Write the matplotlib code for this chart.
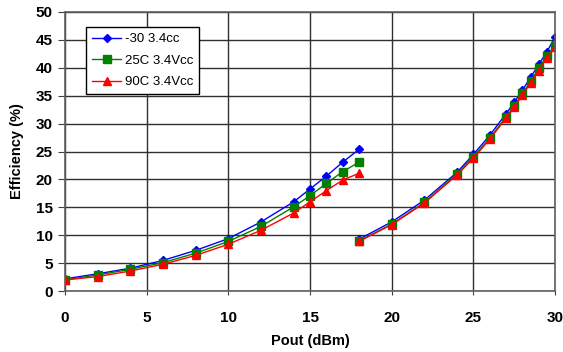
import numpy as np
import matplotlib.pyplot as plt

plt.rcParams['font.family'] = ['Liberation Sans', 'DejaVu Sans']
plt.rcParams['font.weight'] = 'bold'

# Pout (dBm) for the two measurement sweeps, NaN separates them
pout = [0, 2, 4, 6, 8, 10, 12, 14, 15, 16, 17, 18, np.nan,
        18, 20, 22, 24, 25, 26, 27, 27.5, 28, 28.5, 29, 29.5, 30]

eff_m30 = [2.2, 3.1, 4.1, 5.5, 7.3, 9.4, 12.4, 16.0, 18.3, 20.6, 23.1, 25.4, np.nan,
           9.3, 12.4, 16.3, 21.3, 24.5, 27.9, 31.8, 33.8, 36.0, 38.3, 40.6, 42.9, 45.5]
eff_25c = [2.0, 2.9, 3.9, 5.1, 6.8, 8.9, 11.6, 15.1, 17.1, 19.3, 21.4, 23.1, np.nan,
           9.0, 12.0, 15.9, 21.0, 24.1, 27.4, 31.2, 33.2, 35.4, 37.6, 39.9, 42.2, 43.9]
eff_90c = [2.0, 2.6, 3.6, 4.8, 6.4, 8.4, 10.9, 14.0, 16.0, 18.0, 19.9, 21.1, np.nan,
           8.9, 11.9, 15.8, 20.8, 23.8, 27.2, 31.0, 32.9, 35.1, 37.3, 39.5, 41.8, 43.7]

labels = ['-30 3.4cc', '25C 3.4Vcc', '90C 3.4Vcc']

fig = plt.figure(figsize=(5.63, 3.52), dpi=100)
ax = fig.add_axes([0.1155, 0.173, 0.8705, 0.793])

ax.plot(pout, eff_m30, color='#0000FF', marker='D', markersize=4, lw=1, label=labels[0])
ax.plot(pout, eff_25c, color='#008000', marker='s', markersize=6, lw=1, label=labels[1])
ax.plot(pout, eff_90c, color='#FF0000', marker='^', markersize=6, lw=1, label=labels[2])

ax.set_xlim(0, 30)
ax.set_ylim(0, 50)
ax.set_xticks(np.arange(0, 31, 5))
ax.set_yticks(np.arange(0, 51, 5))
ax.grid(True, color='#303030', lw=1)
ax.set_axisbelow(True)
for s in ax.spines.values():
    s.set_color('#606060')
    s.set_linewidth(1.2)
ax.tick_params(direction='out', color='#404040', labelsize=11)
ax.tick_params(axis='x', length=3, pad=11)
ax.tick_params(axis='y', length=5, pad=4)

ax.set_xlabel('Pout (dBm)', fontsize=10.5, fontweight='bold', labelpad=7)
ax.set_ylabel('Efficiency (%)', fontsize=10.5, fontweight='bold', labelpad=8)

leg = ax.legend(loc='upper left', bbox_to_anchor=(0.043, 0.946),
                prop={'weight': 'normal', 'size': 9.5},
                fancybox=False, framealpha=1, edgecolor='black',
                handlelength=2.2, borderpad=0.45, labelspacing=0.7,
                handletextpad=0.3, borderaxespad=0)
leg.get_frame().set_linewidth(1)

fig.savefig('out.png', dpi=100)
